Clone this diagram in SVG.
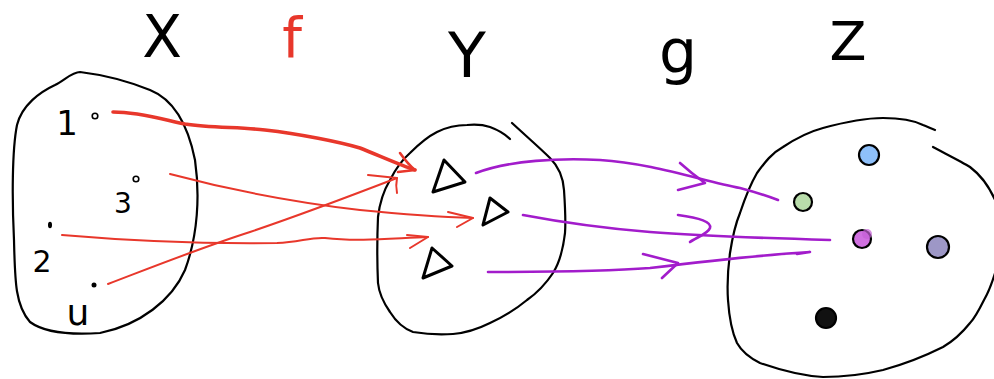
<svg xmlns="http://www.w3.org/2000/svg" width="994" height="379" viewBox="0 0 994 379">
<style>
.blob{fill:none;stroke:#000;stroke-width:2.2;stroke-linecap:round;stroke-linejoin:round}
.lbl{font-family:"DejaVu Sans",sans-serif;text-anchor:middle;fill:#000}
.red{fill:none;stroke:#e8372b;stroke-width:2;stroke-linecap:round;stroke-linejoin:round}
.pur{fill:none;stroke:#a21ccb;stroke-width:2.6;stroke-linecap:round;stroke-linejoin:round}
.tri{fill:none;stroke:#000;stroke-width:3;stroke-linejoin:round}
.dot{stroke:#000;stroke-width:2.2}
</style>
<rect width="994" height="379" fill="#fff"/>
<g id="labels">
<text class="lbl" x="162" y="57" font-size="58">X</text>
<text class="lbl" x="292" y="57" font-size="56" fill="#e8372b" style="fill:#e8372b">f</text>
<text class="lbl" x="467" y="77" font-size="62">Y</text>
<text class="lbl" x="678" y="72" font-size="60">g</text>
<text class="lbl" x="848" y="60" font-size="54">Z</text>
</g>
<g id="node-X">
<path class="blob" d="M80,72 C105,75 125,80 150,90 C175,100 188,125 195,160 C200,195 198,235 185,270 C172,300 140,325 100,333 C70,335 45,333 30,322 C15,305 15,280 14,240 C12,200 12,150 17,125 C22,105 40,92 55,85 C65,80 72,72 80,72 Z"/>
<text class="lbl" x="67" y="135" font-size="34">1</text>
<text class="lbl" x="123" y="213" font-size="28">3</text>
<text class="lbl" x="42" y="272" font-size="30">2</text>
<text class="lbl" x="78" y="325" font-size="36">u</text>
<circle cx="95" cy="116" r="2.8" fill="none" stroke="#000" stroke-width="1.6"/>
<circle cx="136" cy="179" r="2.8" fill="none" stroke="#000" stroke-width="1.6"/>
<ellipse cx="50" cy="225" rx="2" ry="3.2" fill="#000"/>
<circle cx="94" cy="285" r="2.5" fill="#000"/>
</g>
<g id="node-Y">
<path class="blob" d="M512,123 C525,135 540,148 550,158 C558,166 563,175 564,190 C565,205 566,220 565,233 C563,250 560,262 553,273 C545,285 537,293 527,300 C515,310 503,317 490,323 C478,329 465,333 453,334 C440,335 425,334 413,332 C402,328 395,320 390,312 C383,302 379,293 378,283 C377,260 377,240 378,217 C380,200 384,190 390,180 C396,168 402,160 410,153 C418,145 427,137 437,132 C447,127 457,125 467,125 C477,124 484,125 490,127 C498,130 505,134 510,139"/>
<polygon class="tri" points="444,160 465,182 433,192"/>
<polygon class="tri" points="490,198 508,212 483,225"/>
<polygon class="tri" points="432,248 452,266 423,278"/>
</g>
<g id="node-Z">
<path class="blob" d="M933,147 C950,156 962,162 970,167 C982,176 990,188 996,202 L996,270 C993,280 990,290 984,300 C978,312 975,318 970,323 C962,333 955,340 943,347 C925,356 905,364 883,370 C862,375 843,377 823,377 C803,376 780,370 760,363 C750,358 742,352 737,343 C731,330 729,315 728,300 C727,285 728,268 730,253 C732,240 735,225 740,213 C745,198 750,185 757,173 C765,162 772,153 783,147 C795,139 808,132 823,128 C845,122 865,118 883,118 C900,118 915,121 923,125 C928,127 932,129 935,130"/>
<circle class="dot" cx="869" cy="155" r="10" fill="#8ec0fa"/>
<circle class="dot" cx="803" cy="202" r="9" fill="#b9ddab"/>
<circle class="dot" cx="862" cy="239" r="9" fill="#d070e0"/>
<circle cx="867" cy="234" r="5" fill="#c55fd6" opacity="0.7"/>
<circle class="dot" cx="938" cy="247" r="11" fill="#9d97c6"/>
<circle class="dot" cx="826" cy="318" r="10" fill="#111"/>
</g>
<g id="connectors">
<path class="red" style="stroke-width:3.6" d="M113,112 C140,112 165,120 185,124 C210,128 240,127 265,130 C300,134 340,142 360,148 C380,156 400,165 415,170"/>
<path class="red" style="stroke-width:2.6" d="M400,153 C405,160 410,166 415,170 L398,172"/>
<path class="red" d="M170,174 C230,190 300,203 360,210 C400,214 440,217 473,218"/>
<path class="red" d="M448,212 L473,218 L457,227"/>
<path class="red" d="M62,235 C120,240 200,244 277,243 C300,242 310,237 325,238 C360,242 395,238 428,237"/>
<path class="red" d="M407,235 L428,237 L410,248"/>
<path class="red" d="M108,284 C150,268 200,248 250,232 C300,215 340,200 397,178"/>
<path class="red" d="M368,175 L397,178 C396,183 396,188 397,193"/>
<path class="pur" d="M476,173 C510,160 560,158 600,160 C650,163 700,180 740,188 C755,192 770,197 778,200"/>
<path class="pur" d="M680,163 C690,172 698,178 705,183 L678,190"/>
<path class="pur" d="M523,215 C560,222 600,228 650,232 C700,236 760,238 830,240"/>
<path class="pur" d="M678,215 C700,218 712,222 710,228 C708,234 695,238 690,242"/>
<path class="pur" d="M488,272 C540,272 600,272 650,268 C700,262 760,255 810,252 L797,254"/>
<path class="pur" d="M643,254 L678,263 L662,278"/>
</g>
</svg>
